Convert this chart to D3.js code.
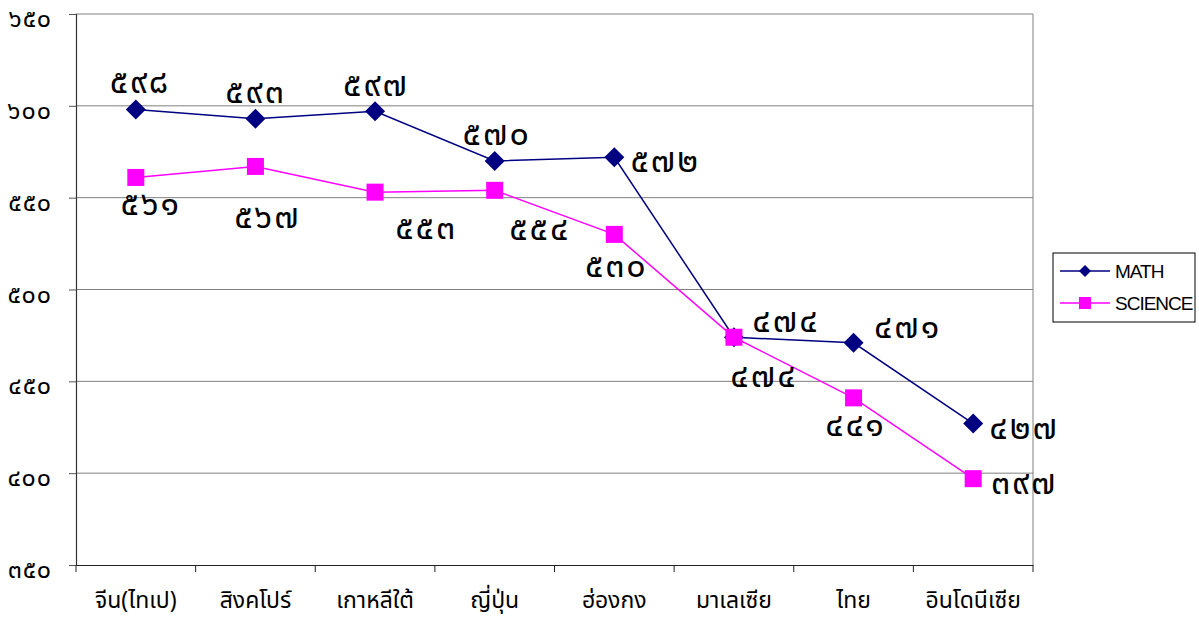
<!DOCTYPE html>
<html><head><meta charset="utf-8">
<script src="https://cdn.jsdelivr.net/npm/d3@7"></script>
<style>body{margin:0;background:#fff;} svg{display:block;}</style>
</head><body>
<script>
const categories = ["จีน(ไทเป)","สิงคโปร์","เกาหลีใต้","ญี่ปุ่น","ฮ่องกง","มาเลเซีย","ไทย","อินโดนีเซีย"];
const mathValues = [598, 593, 597, 570, 572, 474, 471, 427];
const scienceValues = [561, 567, 553, 554, 530, 474, 441, 397];
const yTicks = [350, 400, 450, 500, 550, 600, 650];
const seriesNames = ["MATH", "SCIENCE"];

// label offsets (layout only)
const mathLabelOff = [[4,-27],[0,-26],[1,-26],[2,-26],[51,4],[52,-16],[54,-15],[51,5]];
const sciLabelOff = [[15,27],[12,51],[51,36],[45,39],[2,32],[30,39],[2,28],[51,5]];

const thaiDigits = "๐๑๒๓๔๕๖๗๘๙";
const toThai = n => String(n).replace(/[0-9]/g, d => thaiDigits[+d]);

const W = 1199, H = 617;
const L = 76, R = 1033, T = 14, B = 565;
const svg = d3.select("body").append("svg").attr("width", W).attr("height", H);

const x = d3.scaleBand().domain(categories).range([L, R]);
const y = d3.scaleLinear().domain([350, 650]).range([B, T]);

const thaiFont = "Noto Sans Thai, Loma, Garuda, sans-serif";

// gridlines
svg.append("g").selectAll("line").data(yTicks.filter(v => v > 350)).join("line")
  .attr("x1", L).attr("x2", R).attr("y1", d => y(d)).attr("y2", d => y(d))
  .attr("stroke", "#808080").attr("stroke-width", 1);
// right border
svg.append("line").attr("x1", R).attr("x2", R).attr("y1", T).attr("y2", B)
  .attr("stroke", "#808080").attr("stroke-width", 1);

// y axis
const yAxis = d3.axisLeft(y).tickValues(yTicks).tickSize(7).tickPadding(17).tickFormat(toThai);
const gy = svg.append("g").attr("transform", `translate(${L},0)`).call(yAxis);
gy.select(".domain").attr("stroke", "#333").attr("stroke-width", 1.2);
gy.selectAll(".tick line").attr("stroke", "#555");
gy.selectAll("text").attr("font-family", thaiFont).attr("dy", "0.5em")
  .attr("font-size", 25).attr("fill", "#000").attr("letter-spacing", 1);

// x axis
const xAxis = d3.axisBottom(x).tickSize(0).tickPadding(27);
const gx = svg.append("g").attr("transform", `translate(0,${B})`).call(xAxis);
gx.select(".domain").attr("stroke", "#222").attr("stroke-width", 1.2);
gx.selectAll("text").attr("font-family", thaiFont)
  .attr("font-size", 23).attr("fill", "#000");
// boundary ticks
svg.append("g").selectAll("line").data(categories.concat(["_end"])).join("line")
  .attr("x1", (d, i) => i < categories.length ? x(d) : R)
  .attr("x2", (d, i) => i < categories.length ? x(d) : R)
  .attr("y1", B).attr("y2", B + 7).attr("stroke", "#222");

const cx = d => x(d) + x.bandwidth() / 2;
const line = d3.line().x((d, i) => cx(categories[i])).y(d => y(d));

// science line
svg.append("path").datum(scienceValues).attr("d", line)
  .attr("fill", "none").attr("stroke", "#FF00FF").attr("stroke-width", 1.5);
// math line
svg.append("path").datum(mathValues).attr("d", line)
  .attr("fill", "none").attr("stroke", "#000080").attr("stroke-width", 1.5);

// math markers (diamond)
const dia = 10;
svg.append("g").selectAll("path").data(mathValues).join("path")
  .attr("d", (d, i) => { const px = cx(categories[i]), py = y(d);
    return `M${px},${py - dia}L${px + dia},${py}L${px},${py + dia}L${px - dia},${py}Z`; })
  .attr("fill", "#000080");
// science markers (square)
const sq = 17;
svg.append("g").selectAll("rect").data(scienceValues).join("rect")
  .attr("x", (d, i) => cx(categories[i]) - sq / 2).attr("y", d => y(d) - sq / 2)
  .attr("width", sq).attr("height", sq).attr("fill", "#FF00FF");

// labels
function labels(vals, off) {
  svg.append("g").selectAll("text").data(vals).join("text")
    .attr("x", (d, i) => cx(categories[i]) + off[i][0])
    .attr("y", (d, i) => y(d) + off[i][1])
    .attr("text-anchor", "middle").attr("dominant-baseline", "central")
    .attr("font-family", thaiFont).attr("font-size", 34).attr("letter-spacing", 2)
    .text(d => toThai(d));
}
labels(mathValues, mathLabelOff);
labels(scienceValues, sciLabelOff);

// legend
const lg = svg.append("g").attr("transform", "translate(1053,253)");
lg.append("rect").attr("width", 142).attr("height", 69).attr("fill", "#fff").attr("stroke", "#000");
const colors = ["#000080", "#FF00FF"];
seriesNames.forEach((s, i) => {
  const ly = 18 + i * 32;
  lg.append("line").attr("x1", 7).attr("x2", 57).attr("y1", ly).attr("y2", ly)
    .attr("stroke", colors[i]).attr("stroke-width", 1.5);
  if (i === 0) lg.append("path").attr("d", `M32,${ly - 6}L38,${ly}L32,${ly + 6}L26,${ly}Z`).attr("fill", colors[i]);
  else lg.append("rect").attr("x", 26).attr("y", ly - 6).attr("width", 12).attr("height", 12).attr("fill", colors[i]);
  lg.append("text").attr("x", 62).attr("y", ly).attr("dominant-baseline", "central")
    .attr("font-family", "Liberation Sans, Arial, sans-serif").attr("font-size", 19)
    .attr("letter-spacing", -1).text(s);
});
</script>
</body></html>
